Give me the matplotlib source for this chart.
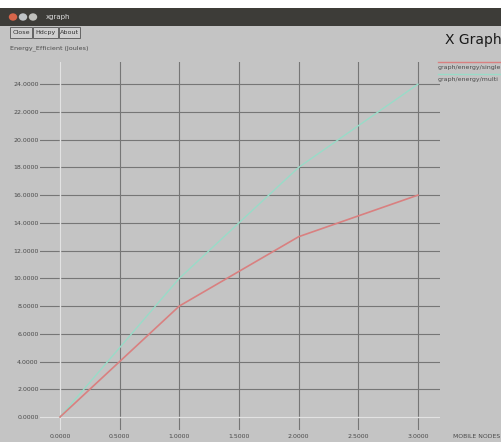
import matplotlib.pyplot as plt
from matplotlib.patches import Rectangle, Circle
from matplotlib.ticker import MultipleLocator, FormatStrFormatter

# data
nodes = [0.0, 1.0, 2.0, 3.0]
energy_single = [0.0, 8.0, 13.0, 16.0]
energy_multi = [0.0, 10.0, 18.0, 24.0]
series_names = ['graph/energy/single', 'graph/energy/multi']
series_colors = ['#d98080', '#98dcc8']

W, H = 502, 442
bg = '#c4c4c4'
txt = '#4a4a4a'

fig = plt.figure(figsize=(W / 100, H / 100), dpi=100)
fig.patch.set_facecolor(bg)

def fx(px):
    return px / W

def fy(py):
    return 1 - py / H

# window title bar
fig.patches.append(Rectangle((0, fy(8)), 1, 8 / H, transform=fig.transFigure,
                             facecolor='white', edgecolor='none'))
fig.patches.append(Rectangle((0, fy(26)), 1, 18 / H, transform=fig.transFigure,
                             facecolor='#3d3c38', edgecolor='none'))
for cx, col in [(13, '#d7654a'), (23, '#bfc3c6'), (33, '#c0c0bc')]:
    fig.patches.append(Circle((fx(cx), fy(17)), 4.2 / W, transform=fig.transFigure,
                              facecolor=col, edgecolor='none'))
fig.text(fx(46), fy(17), 'xgraph', color='#dddddd', fontsize=5, va='center')

# buttons
for x0, x1, lab in [(10, 32, 'Close'), (33, 58, 'Hdcpy'), (59, 80, 'About')]:
    fig.patches.append(Rectangle((fx(x0), fy(38)), (x1 - x0) / W, 11 / H,
                                 transform=fig.transFigure, facecolor='#cfcfcf',
                                 edgecolor='#555555', linewidth=0.6))
    fig.text(fx((x0 + x1) / 2), fy(32.5), lab, fontsize=4.6, color='#333333',
             ha='center', va='center')

fig.text(fx(10), fy(48), 'Energy_Efficient (Joules)', fontsize=4.6, color=txt,
         va='center')
fig.text(fx(445), fy(40), 'X Graph', fontsize=10, color='#1a1a1a', va='center')
fig.text(fx(500), fy(436), 'MOBILE NODES', fontsize=4.4, color=txt,
         va='center', ha='right')

# plot area
x_lo, x_hi = -0.168, 3.185
y_lo, y_hi = -0.94, 25.6
ax = fig.add_axes([fx(40), fy(430), (440 - 40) / W, (430 - 62) / H])
ax.set_facecolor(bg)
ax.set_xlim(x_lo, x_hi)
ax.set_ylim(y_lo, y_hi)
for s in ax.spines.values():
    s.set_visible(False)

ax.xaxis.set_major_locator(MultipleLocator(0.5))
ax.yaxis.set_major_locator(MultipleLocator(2))
ax.xaxis.set_major_formatter(FormatStrFormatter('%.4f'))
ax.yaxis.set_major_formatter(FormatStrFormatter('%.4f'))
ax.tick_params(length=0, labelsize=4.5, labelcolor=txt)
ax.tick_params(axis='y', pad=1)
ax.tick_params(axis='x', pad=3)
ax.grid(True, color='#767676', linewidth=0.8)
ax.set_axisbelow(True)
ax.axvline(0, color='#e2e2e2', linewidth=1.0, zorder=1.5)
ax.axhline(0, color='#e2e2e2', linewidth=1.0, zorder=1.5)

ax.plot(nodes, energy_multi, color=series_colors[1], linewidth=1.0, zorder=3)
ax.plot(nodes, energy_single, color=series_colors[0], linewidth=1.2, zorder=3)

# legend in xgraph style: line above each name
for i, (name, col) in enumerate(zip(series_names, series_colors)):
    ly = 62 + i * 12
    fig.add_artist(plt.Line2D([fx(438), fx(502)], [fy(ly), fy(ly)],
                              color=col, linewidth=1.0, transform=fig.transFigure))
    fig.text(fx(438), fy(ly + 5.5), name, fontsize=4.5, color=txt, va='center')

fig.savefig('out.png', dpi=100, facecolor=fig.get_facecolor())
